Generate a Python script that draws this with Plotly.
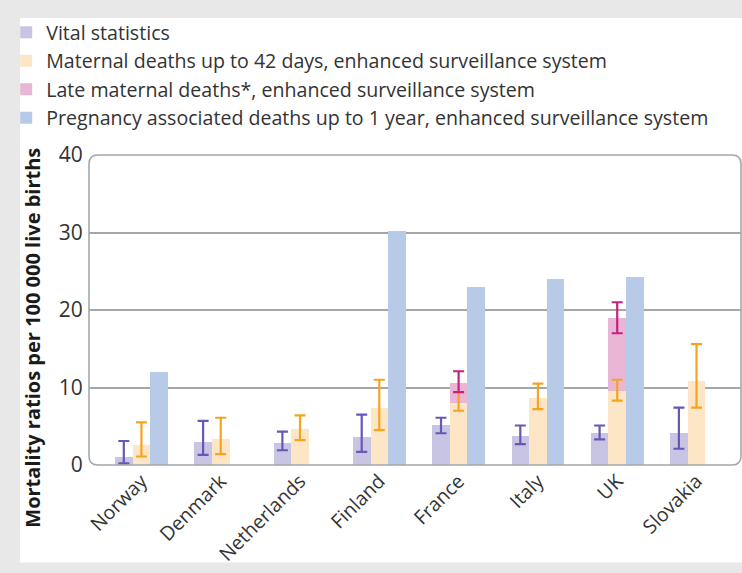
import plotly.graph_objects as go

# Mortality ratios per 100 000 live births, by country and data source
countries = ["Norway", "Denmark", "Netherlands", "Finland", "France", "Italy", "UK", "Slovakia"]

vital = [1.0, 3.0, 2.8, 3.6, 5.1, 3.7, 4.1, 4.1]
vital_lo = [0.2, 1.3, 1.9, 1.7, 4.1, 2.7, 3.3, 2.1]
vital_hi = [3.1, 5.7, 4.3, 6.5, 6.1, 5.1, 5.1, 7.4]

maternal = [2.6, 3.3, 4.6, 7.3, 8.0, 8.6, 9.6, 10.8]
maternal_lo = [1.1, 1.4, 3.2, 4.5, 7.0, 7.2, 8.3, 7.4]
maternal_hi = [5.5, 6.1, 6.4, 11.0, 9.4, 10.5, 11.0, 15.6]

# late maternal deaths, stacked on top of maternal deaths up to 42 days
late = [None, None, None, None, 2.6, None, 9.4, None]
late_total_lo = [None, None, None, None, 9.4, None, 17.0, None]
late_total_hi = [None, None, None, None, 12.1, None, 21.0, None]

pregnancy = [12.0, None, None, 30.2, 23.0, 24.0, 24.2, None]

legend_names = [
    "Vital statistics",
    "Maternal deaths up to 42 days, enhanced surveillance system",
    "Late maternal deaths*, enhanced surveillance system",
    "Pregnancy associated deaths up to 1 year, enhanced surveillance system",
]

C_VITAL, C_VITAL_ERR = "#c8c4e3", "#6a56b4"
C_MAT, C_MAT_ERR = "#fde6c6", "#f6a420"
C_LATE, C_LATE_ERR = "#e9b6d6", "#c92180"
C_PREG = "#b7cbe9"

FONT = "Open Sans"
TXT = "#333333"

W = 0.222  # bar width in category units
xs = list(range(len(countries)))

fig = go.Figure()

fig.add_bar(x=xs, y=vital, width=W, offset=-1.5 * W, marker_color=C_VITAL,
            marker_line_width=0, name=legend_names[0], legendgroup="a")
fig.add_bar(x=xs, y=maternal, width=W, offset=-0.5 * W, marker_color=C_MAT,
            marker_line_width=0, name=legend_names[1], legendgroup="b")
fig.add_bar(x=xs, y=late, base=maternal, width=W, offset=-0.5 * W, marker_color=C_LATE,
            marker_line_width=0, name=legend_names[2], legendgroup="c")
fig.add_bar(x=xs, y=pregnancy, width=W, offset=0.5 * W, marker_color=C_PREG,
            marker_line_width=0, name=legend_names[3], legendgroup="d")


def err_trace(xpos, centre, lo, hi, color):
    px, py, up, dn = [], [], [], []
    for x, c, l, h in zip(xpos, centre, lo, hi):
        if c is None or l is None:
            continue
        px.append(x)
        py.append(c)
        up.append(h - c)
        dn.append(c - l)
    return go.Scatter(
        x=px, y=py, mode="markers", marker=dict(opacity=0, size=1),
        showlegend=False, hoverinfo="skip",
        error_y=dict(type="data", symmetric=False, array=up, arrayminus=dn,
                     color=color, thickness=2.2, width=5.5),
    )


late_total = [m + l if l is not None else None for m, l in zip(maternal, late)]

fig.add_trace(err_trace([x - W for x in xs], vital, vital_lo, vital_hi, C_VITAL_ERR))
fig.add_trace(err_trace(xs, maternal, maternal_lo, maternal_hi, C_MAT_ERR))
fig.add_trace(err_trace(xs, late_total, late_total_lo, late_total_hi, C_LATE_ERR))

# page panel and rounded plot frame
shapes = [
    dict(type="rect", xref="paper", yref="paper", x0=-0.1058, x1=1.01, y0=-0.3149, y1=1.4417,
         fillcolor="white", line_width=0, layer="below"),
]
rx, ry = 9 / 652, 9 / 310
frame = (f"M {rx},0 L {1 - rx},0 Q 1,0 1,{ry} L 1,{1 - ry} Q 1,1 {1 - rx},1 "
         f"L {rx},1 Q 0,1 0,{1 - ry} L 0,{ry} Q 0,0 {rx},0 Z")
shapes.append(dict(type="path", xref="paper", yref="paper", path=frame,
                   line=dict(color="#a2a8a8", width=1.6), layer="above"))

fig.update_layout(
    width=742, height=573,
    margin=dict(l=89, r=1, t=155, b=108),
    paper_bgcolor="#e7e8e7",
    plot_bgcolor="white",
    barmode="overlay",
    bargap=0,
    shapes=shapes,
    font=dict(family=FONT, color=TXT),
    showlegend=True,
    legend=dict(
        x=-0.127, y=1.458, xanchor="left", yanchor="top",
        bgcolor="rgba(0,0,0,0)", borderwidth=0,
        font=dict(family=FONT, size=19.6, color=TXT),
        tracegroupgap=0, itemclick=False,
    ),
    xaxis=dict(
        range=[-0.661, 7.561], tickmode="array", tickvals=xs, ticktext=countries,
        tickangle=-45, tickfont=dict(size=19.5, color=TXT, family=FONT),
        showgrid=False, zeroline=False, showline=False, ticks="",
    ),
    yaxis=dict(
        range=[0, 40], tickvals=[0, 10, 20, 30, 40], ticks="outside", ticklen=1,
        tickcolor="rgba(0,0,0,0)", tickfont=dict(size=21, color=TXT, family=FONT),
        showgrid=True, gridcolor="#a2a8a8", gridwidth=1.6,
        zeroline=False, showline=False,
    ),
    annotations=[
        dict(text="<b>Mortality ratios per 100 000 live births</b>", xref="paper", yref="paper",
             x=(33 - 89) / 652, y=(465.3 - 338) / 310, textangle=-90, showarrow=False,
             xanchor="center", yanchor="middle",
             font=dict(family=FONT, size=20, color="#1a1a1a")),
    ],
)

fig.write_html("out.html")
